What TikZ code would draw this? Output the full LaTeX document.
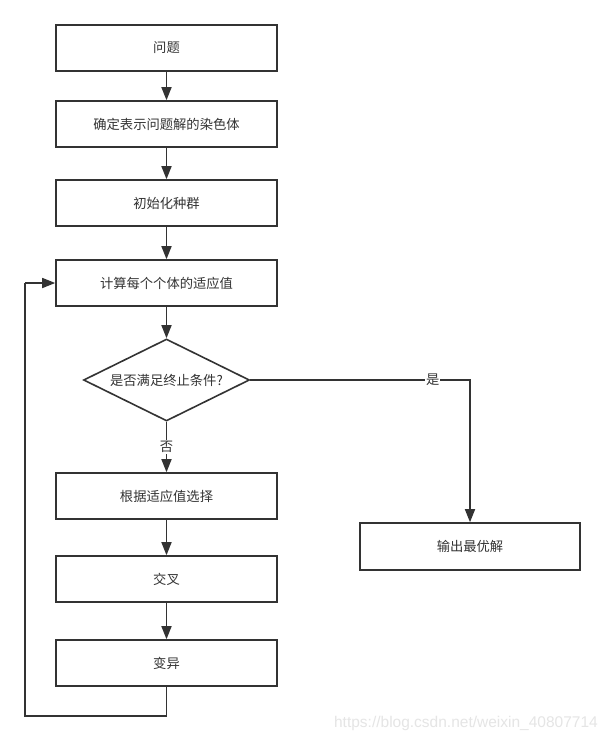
\documentclass[tikz,border=0pt]{standalone}
\usepackage{fontspec}
\setmainfont{Noto Sans CJK SC}
\usetikzlibrary{arrows.meta,shapes.geometric}
\definecolor{ln}{HTML}{333333}
\definecolor{tx}{HTML}{333333}
\tikzset{
  box/.style={draw=ln,line width=1.6pt,minimum width=221pt,minimum height=46pt,inner sep=0pt,font=\fontsize{13.3pt}{15pt}\selectfont,text=tx},
  dia/.style={draw=ln,line width=1.6pt,diamond,aspect=2.02,minimum width=166pt,minimum height=82pt,inner sep=0pt,font=\fontsize{13.3pt}{15pt}\selectfont,text=tx},
  arr/.style={draw=ln,line width=1.6pt,-{Triangle[length=13pt,width=10pt]}},
  lnk/.style={draw=ln,line width=1.6pt},
  lab/.style={fill=white,inner sep=1pt,font=\fontsize{13.3pt}{15pt}\selectfont,text=tx}
}
\begin{document}
\begin{tikzpicture}[x=1pt,y=-1pt]
\useasboundingbox (0,0) rectangle (606,742);
\fill[white] (0,0) rectangle (606,742);
\node[box] (b1) at (166.5,48) {问题};
\node[box] (b2) at (166.5,124) {确定表示问题解的染色体};
\node[box] (b3) at (166.5,203) {初始化种群};
\node[box] (b4) at (166.5,283) {计算每个个体的适应值};
\node[dia] (d) at (166.5,380) {是否满足终止条件?};
\node[box] (b5) at (166.5,496) {根据适应值选择};
\node[box] (b6) at (166.5,579) {交叉};
\node[box] (b7) at (166.5,663) {变异};
\node[box,minimum width=220pt,minimum height=47pt] (o) at (470,546.5) {输出最优解};
\coordinate (c1) at (470,380);
\coordinate (l1) at (166.5,716);
\coordinate (l2) at (25,716);
\coordinate (l3) at (25,283);
\draw[arr] (b1) -- (b2);
\draw[arr] (b2) -- (b3);
\draw[arr] (b3) -- (b4);
\draw[arr] (b4) -- (d);
\draw[arr] (d.south) -- node[lab,pos=0.5] {否} (b5.north);
\draw[arr] (b5) -- (b6);
\draw[arr] (b6) -- (b7);
\draw[arr] (d.east) -- node[lab,pos=0.83] {是} (c1) -- (o.north);
\draw[lnk] (b7.south) -- (l1) -- (l2) -- (l3);
\draw[arr] (l3) -- (b4.west);
\node[text=black!10,font=\fontsize{15.5pt}{17pt}\selectfont\fontspec{Liberation Sans},anchor=east,inner sep=0pt] (wm) at (598,723) {https://blog.csdn.net/weixin\_40807714};
\end{tikzpicture}
\end{document}
